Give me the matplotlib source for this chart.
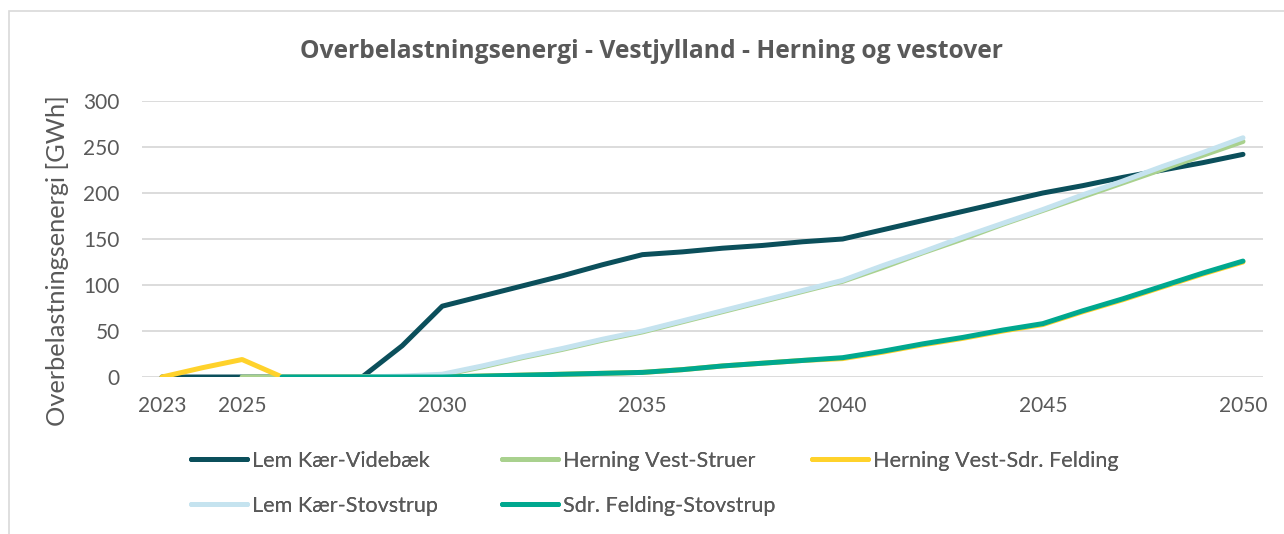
import numpy as np
import matplotlib
matplotlib.use("Agg")
import matplotlib.pyplot as plt
from matplotlib.patches import Rectangle

plt.rcParams['font.family'] = ['Lato', 'DejaVu Sans']

nan = np.nan
years = list(range(2023, 2051))
tick_years = [2023, 2025, 2030, 2035, 2040, 2045, 2050]

labels = ["Lem Kær-Videbæk", "Herning Vest-Struer", "Herning Vest-Sdr. Felding",
          "Lem Kær-Stovstrup", "Sdr. Felding-Stovstrup"]
colors = ["#0b4f5b", "#a9d18e", "#ffd22b", "#c5e3ef", "#00a88f"]

lem_videbaek = [0, 0, 0, 0, 0, 0, 34, 77, 88, 99, 110, 122, 133, 136, 140, 143,
                147, 150, 160, 170, 180, 190, 200, 208, 217, 225, 233, 242]
herning_struer = [nan, nan, 0, 0, 0, 0, 0, 2, 11, 21, 30, 40, 49, 60, 71, 82,
                  93, 104, 119, 135, 150, 166, 181, 196, 211, 226, 241, 256]
herning_sdr = [0, 10, 19, 0, 0, 0, 0, 0, 1, 2, 3, 4, 5, 8, 12, 15,
               18, 20, 27, 35, 42, 50, 57, 71, 84, 98, 112, 125]
lem_stovstrup = [nan, nan, nan, 0, 0, 0, 1, 3, 12, 22, 31, 41, 50, 61, 72, 83,
                 94, 105, 121, 136, 152, 167, 182, 198, 213, 229, 244, 260]
sdr_stovstrup = [nan, nan, nan, 0, 0, 0, 0, 0, 1, 2, 3, 4, 5, 8, 12, 15,
                 18, 21, 28, 36, 43, 51, 58, 72, 85, 99, 113, 126]

series = [lem_videbaek, herning_struer, herning_sdr, lem_stovstrup, sdr_stovstrup]

text_color = "#595959"
fig = plt.figure(figsize=(12.84, 5.34), dpi=100)
ax = fig.add_axes([142 / 1284, 1 - 377 / 534, 1121 / 1284, 276 / 534])

handles = []
for vals, lab, col in zip(series, labels, colors):
    h, = ax.plot(years, vals, color=col, lw=3.6, solid_capstyle='round',
                 solid_joinstyle='round', label=lab)
    handles.append(h)

ax.set_xlim(2022.5, 2050.5)
ax.set_ylim(0, 300)
ax.set_yticks(range(0, 301, 50))
ax.set_xticks(tick_years)
ax.yaxis.grid(True, color="#d9d9d9", lw=1.3)
ax.set_axisbelow(True)
for s in ax.spines.values():
    s.set_visible(False)
ax.tick_params(axis='both', length=0, labelsize=15, labelcolor=text_color)
ax.tick_params(axis='y', pad=16)
ax.tick_params(axis='x', pad=14)

fig.text(58 / 1284, 1 - 261 / 534, "Overbelastningsenergi [GWh]", rotation=90,
         ha='center', va='center', fontsize=18.3, color=text_color)
fig.text(651 / 1284, 1 - 51 / 534,
         "Overbelastningsenergi - Vestjylland - Herning og vestover",
         ha='center', va='center', fontsize=17.7, fontweight='bold', color=text_color,
         family=['Open Sans', 'DejaVu Sans'])

# legend laid out in equal-width columns like the original
leg_pos = [(191, 461), (502, 461), (812, 461), (191, 506), (502, 506)]
for h, (px, py) in zip(handles, leg_pos):
    lg = fig.legend([h], [h.get_label()], loc='center left',
                    bbox_to_anchor=(px / 1284, 1 - py / 534), frameon=False,
                    fontsize=15.6, handlelength=2.6, handletextpad=0.2,
                    borderpad=0, borderaxespad=0, labelcolor=text_color)
    fig.add_artist(lg)

fig.add_artist(Rectangle((8.5 / 1284, -0.1), 1.1, 1.1 - 11 / 534, fill=False,
                         edgecolor="#d9d9d9", lw=1.2, transform=fig.transFigure))

fig.savefig("out.png", dpi=100)
